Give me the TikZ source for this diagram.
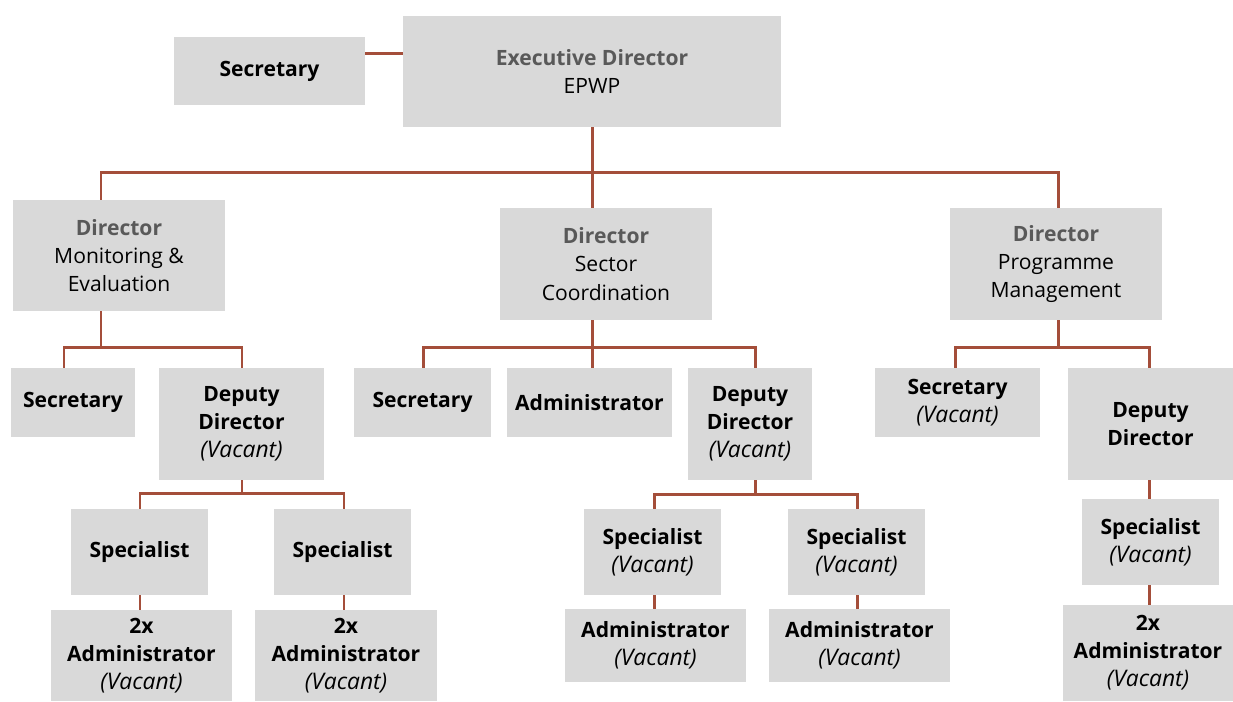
\documentclass[tikz,border=0pt]{standalone}
\usepackage{fontspec}
\setmainfont{Open Sans}
\usepackage{xcolor}
\usepackage{tikz}
\usetikzlibrary{positioning}
\definecolor{boxgray}{HTML}{D9D9D9}
\definecolor{headgray}{HTML}{595959}
\definecolor{linkred}{RGB}{164,78,58}
\newcommand{\head}[1]{\textcolor{headgray}{\textbf{#1}}}
\newcommand{\vacant}{\textit{\fontsize{13}{16}\selectfont(Vacant)}}
\tikzset{
  post/.style={
    fill=boxgray, align=center, inner sep=0pt,
    font=\fontsize{12}{16}\selectfont\bfseries,
    execute at begin node={\vspace*{3pt}},
  },
  link/.style={draw=linkred, line width=1.7pt},
}

\begin{document}
\begin{tikzpicture}[x=0.02cm, y=-0.02cm]
  \useasboundingbox (0,0) rectangle (1233,701);

  % Define nodes
  \node[post, minimum width=3.82cm, minimum height=1.36cm] (sec0) at (269.5,71) {Secretary};
  \node[post, minimum width=7.56cm, minimum height=2.22cm] (exec) at (592,71.5)
    {\head{Executive Director}\\\mdseries EPWP};

  \node[post, minimum width=4.24cm, minimum height=2.22cm] (dirME) at (119,255.5)
    {\head{Director}\\\mdseries Monitoring \&\\\mdseries Evaluation};
  \node[post, minimum width=4.24cm, minimum height=2.24cm] (dirSC) at (606,264)
    {\head{Director}\\\mdseries Sector\\\mdseries Coordination};
  \node[post, minimum width=4.24cm, minimum height=2.24cm] (dirPM) at (1056,264)
    {\head{Director}\\\mdseries Programme\\\mdseries Management};

  \node[post, minimum width=2.48cm, minimum height=1.38cm] (secME) at (73,402.5) {Secretary};
  \node[post, minimum width=3.30cm, minimum height=2.24cm] (depME) at (241.5,424)
    {Deputy\\Director\\\mdseries\vacant};
  \node[post, minimum width=2.74cm, minimum height=1.38cm] (secSC) at (422.5,402.5) {Secretary};
  \node[post, minimum width=3.30cm, minimum height=1.38cm] (admSC) at (589.5,402.5) {Administrator};
  \node[post, minimum width=2.48cm, minimum height=2.24cm] (depSC) at (750,424)
    {Deputy\\Director\\\mdseries\vacant};
  \node[post, minimum width=3.30cm, minimum height=1.38cm] (secPM) at (957.5,402.5)
    {Secretary\\\mdseries\vacant};
  \node[post, minimum width=3.30cm, minimum height=2.24cm] (depPM) at (1150.5,424)
    {Deputy\\Director};

  \node[post, minimum width=2.74cm, minimum height=1.72cm] (spME1) at (139.5,552) {Specialist};
  \node[post, minimum width=2.74cm, minimum height=1.72cm] (spME2) at (342.5,552) {Specialist};
  \node[post, minimum width=3.62cm, minimum height=1.82cm] (adME1) at (141.5,655.5)
    {2x\\Administrator\\\mdseries\vacant};
  \node[post, minimum width=3.64cm, minimum height=1.82cm] (adME2) at (346,655.5)
    {2x\\Administrator\\\mdseries\vacant};

  \node[post, minimum width=2.74cm, minimum height=1.72cm] (spSC1) at (652.5,552)
    {Specialist\\\mdseries\vacant};
  \node[post, minimum width=2.74cm, minimum height=1.72cm] (spSC2) at (856.5,552)
    {Specialist\\\mdseries\vacant};
  \node[post, minimum width=3.62cm, minimum height=1.46cm] (adSC1) at (655.5,645.5)
    {Administrator\\\mdseries\vacant};
  \node[post, minimum width=3.62cm, minimum height=1.46cm] (adSC2) at (859.5,645.5)
    {Administrator\\\mdseries\vacant};

  \node[post, minimum width=2.74cm, minimum height=1.72cm] (spPM) at (1150.5,542)
    {Specialist\\\mdseries\vacant};
  \node[post, minimum width=3.40cm, minimum height=1.92cm] (adPM) at (1148,653)
    {2x\\Administrator\\\mdseries\vacant};

  % Bus points
  \coordinate (execB) at (592,172);
  \coordinate (busL) at (101,172);
  \coordinate (busR) at (1058,172);
  \coordinate (meB) at (101,347.5);
  \coordinate (meL) at (64,347.5);
  \coordinate (meR) at (242,347.5);
  \coordinate (scB) at (592,347.5);
  \coordinate (scL) at (423,347.5);
  \coordinate (scR) at (755.5,347.5);
  \coordinate (pmB) at (1058,347.5);
  \coordinate (pmL) at (955.5,347.5);
  \coordinate (pmR) at (1149.5,347.5);
  \coordinate (dmB) at (242,493.5);
  \coordinate (dmL) at (140,493.5);
  \coordinate (dmR) at (344,493.5);
  \coordinate (dsB) at (755.5,494);
  \coordinate (dsL) at (654.5,494);
  \coordinate (dsR) at (857.5,494);
  \coordinate (secY) at (0,53);

  % Connect nodes
  \draw[link] (sec0.east |- secY) -- (exec.west |- secY);
  \draw[link] (exec.south) -- (execB);
  \draw[link] (busL |- dirME.north) -- (busL) -- (busR) -- (busR |- dirPM.north);
  \draw[link] (execB) -- (execB |- dirSC.north);

  \draw[link] (meB |- dirME.south) -- (meB);
  \draw[link] (meL |- secME.north) -- (meL) -- (meR) -- (meR |- depME.north);
  \draw[link] (scB |- dirSC.south) -- (scB |- admSC.north);
  \draw[link] (scL |- secSC.north) -- (scL) -- (scR) -- (scR |- depSC.north);
  \draw[link] (pmB |- dirPM.south) -- (pmB);
  \draw[link] (pmL |- secPM.north) -- (pmL) -- (pmR) -- (pmR |- depPM.north);

  \draw[link] (dmB |- depME.south) -- (dmB);
  \draw[link] (dmL |- spME1.north) -- (dmL) -- (dmR) -- (dmR |- spME2.north);
  \draw[link] (dmL |- spME1.south) -- (dmL |- adME1.north);
  \draw[link] (dmR |- spME2.south) -- (dmR |- adME2.north);

  \draw[link] (dsB |- depSC.south) -- (dsB);
  \draw[link] (dsL |- spSC1.north) -- (dsL) -- (dsR) -- (dsR |- spSC2.north);
  \draw[link] (dsL |- spSC1.south) -- (dsL |- adSC1.north);
  \draw[link] (dsR |- spSC2.south) -- (dsR |- adSC2.north);

  \draw[link] (pmR |- depPM.south) -- (pmR |- spPM.north);
  \draw[link] (pmR |- spPM.south) -- (pmR |- adPM.north);

\end{tikzpicture}
\end{document}
